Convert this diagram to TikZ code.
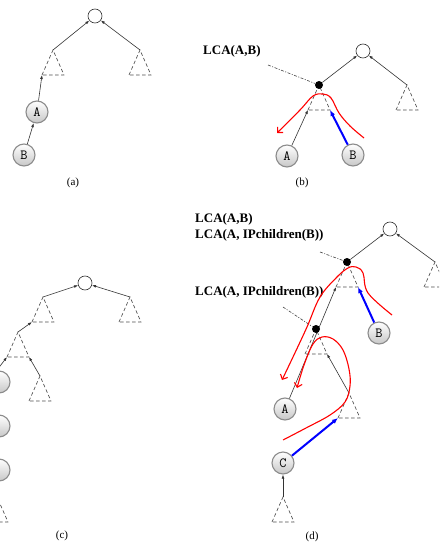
\documentclass[tikz,border=0pt]{standalone}
\usepackage{fontspec}
\setmainfont{Liberation Serif}
\usetikzlibrary{arrows.meta,calc}

% dashed subtree: apex #1 at (#2,#3), base corners #1-l and #1-r
\newcommand\subtree[3]{%
  \coordinate (#1) at (#2,#3);
  \coordinate (#1-l) at (#2-11,#3+25);
  \coordinate (#1-r) at (#2+11,#3+25);
  \draw[tri] (#1-l) -- (#1) -- (#1-r) -- cycle;}

\begin{document}
\begin{tikzpicture}[x=1pt,y=-1pt,
  ptr/.style={-{Latex[length=4pt,width=2.8pt]}, line width=0.6pt, draw=black!80},
  tri/.style={draw=black!70, line width=0.65pt, dash pattern=on 3.5pt off 2.5pt},
  ball/.style={circle, draw=black!45, line width=1.1pt, minimum size=22pt, inner sep=0pt,
    top color=white, bottom color=black!22, font=\ttfamily\fontsize{14}{14}\selectfont},
  rootnode/.style={circle, draw=black!80, line width=0.65pt, minimum size=14pt, inner sep=0pt, fill=white},
  lcadot/.style={circle, fill=black, minimum size=8pt, inner sep=0pt},
  lead/.style={line width=0.6pt, draw=black!75, dash pattern=on 3pt off 1.5pt on 1pt off 1.5pt},
  lcalabel/.style={font=\bfseries\fontsize{13}{14}\selectfont, anchor=west, inner sep=0pt},
  caption/.style={font=\fontsize{11}{12}\selectfont, inner sep=0pt},
  redpath/.style={draw=red, line width=1.1pt, -{Straight Barb[length=4pt,width=8pt]}},
  bluearrow/.style={draw=blue, line width=2pt, -{Latex[length=6pt,width=5pt]}},
]
\clip (0,0) rectangle (439,545);

% ---------------- (a) ----------------
\node[rootnode] (a-root) at (95,16) {};
\subtree{a-t1}{53}{50}
\subtree{a-t2}{140}{50}
\node[ball] (a-A) at (37,112) {A};
\node[ball] (a-B) at (24,155) {B};
\draw[ptr] (a-t1) -- (a-root);
\draw[ptr] (a-t2) -- (a-root);
\draw[ptr] (a-A) -- (a-t1-l);
\draw[ptr] (a-B) -- (a-A);
\node[caption] (a-cap) at (73,183) {(a)};

% ---------------- (b) ----------------
\node[rootnode] (b-root) at (363,51) {};
\subtree{b-t1}{319}{85}
\subtree{b-t2}{407}{85}
\node[ball] (b-A) at (287,156) {A};
\node[ball] (b-B) at (353,155) {B};
\draw[ptr] (b-A) -- (b-t1-l);
\draw[bluearrow] (b-B) -- (b-t1-r);
\node[lcadot] (b-lca) at (319,85) {};
\draw[ptr] (b-lca) -- (b-root);
\draw[ptr] (b-t2) -- (b-root);
\node[lcalabel] (b-lab) at (203,51) {LCA(A,B)};
\coordinate (b-lead) at (268,65);
\draw[lead] (b-lead) -- (b-lca);
\draw[redpath] plot[smooth, tension=0.6] coordinates
  {(364,138) (350,126) (339,113) (331,98) (323,94) (313,96) (300,110) (277,133)};
\node[caption] (b-cap) at (302,183) {(b)};

% ---------------- (c) ----------------
\node[rootnode] (c-root) at (85,283) {};
\subtree{c-t1}{43}{297}
\subtree{c-t1r}{130}{297}
\subtree{c-t2}{18}{332}
\subtree{c-t3}{40}{376}
\subtree{c-bot}{-3}{497}
\node[ball] (c-n1) at (-1,382) {};
\node[ball] (c-n2) at (-1,426) {};
\node[ball] (c-n3) at (-1,470) {};
\coordinate (c-in) at (-3,370);
\draw[ptr] (c-t1) -- (c-root);
\draw[ptr] (c-t1r) -- (c-root);
\draw[ptr] (c-t2) -- (c-t1-l);
\draw[ptr] (c-t3) -- (c-t2-r);
\draw[ptr] (c-in) -- (c-t2-l);
\node[caption] (c-cap) at (62,536) {(c)};

% ---------------- (d) ----------------
\node[rootnode] (d-root) at (390,229) {};
\subtree{d-t1}{347}{262}
\subtree{d-t1r}{435}{262}
\subtree{d-t2}{316}{329}
\subtree{d-t3}{349}{393}
\subtree{d-bot}{283}{497}
\node[ball] (d-B) at (379,333) {B};
\node[ball] (d-A) at (285,409) {A};
\node[ball] (d-C) at (283,463) {C};
\draw[ptr] (d-A) -- (d-t1-l);
\draw[ptr] (d-t3) -- (d-t2-r);
\draw[ptr] (d-bot) -- (d-C);
\draw[bluearrow] (d-B) -- (d-t1-r);
\draw[bluearrow] (d-C) -- (d-t3-l);
\node[lcadot] (d-lca1) at (347,262) {};
\node[lcadot] (d-lca2) at (316,329) {};
\draw[ptr] (d-lca1) -- (d-root);
\draw[ptr] (d-t1r) -- (d-root);
\node[lcalabel] (d-lab1) at (195,219) {LCA(A,B)};
\node[lcalabel] (d-lab2) at (195,235) {LCA(A, IPchildren(B))};
\node[lcalabel] (d-lab3) at (195,292) {LCA(A, IPchildren(B))};
\coordinate (d-lead1) at (320,252);
\coordinate (d-lead2) at (283,307);
\draw[lead] (d-lead1) -- (d-lca1);
\draw[lead] (d-lead2) -- (d-lca2);
\draw[redpath] plot[smooth, tension=0.6] coordinates
  {(392,315) (368,293) (363,273) (356,267) (348,268) (337,277) (320,297) (307,327) (293,357) (282,380)};
\draw[redpath] plot[smooth, tension=0.6] coordinates
  {(283,440) (306,428) (330,415) (345,402) (350,386) (349,369) (343,350) (333,339) (322,337) (313,344) (304,365) (297,388)};
\node[caption] (d-cap) at (312,537) {(d)};
\end{tikzpicture}
\end{document}
